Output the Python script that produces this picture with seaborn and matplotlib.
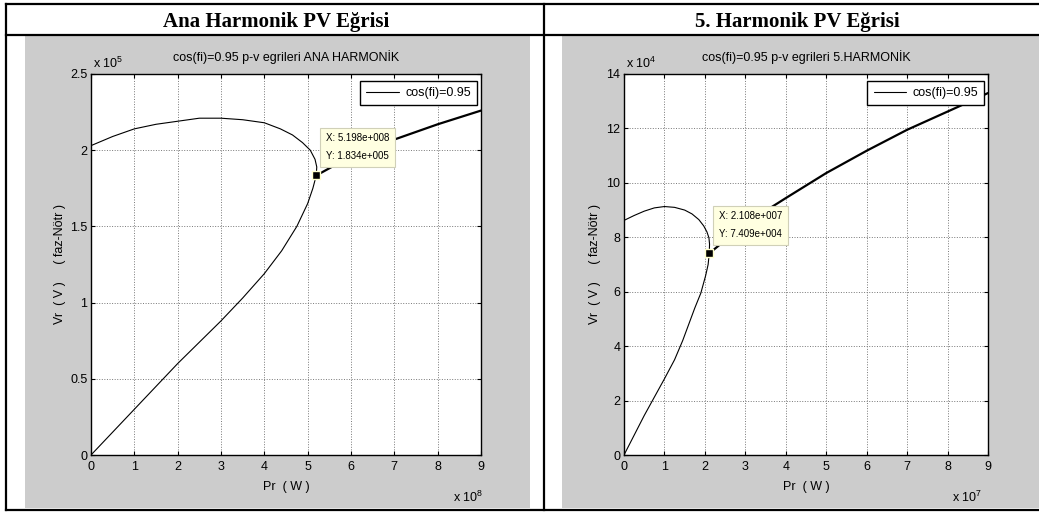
import numpy as np
import matplotlib
matplotlib.use("Agg")
import matplotlib.pyplot as plt
import seaborn as sns
from matplotlib.patches import Rectangle
from matplotlib.lines import Line2D
from matplotlib.ticker import FuncFormatter

# ---------------- data (display units) ----------------
headers = ["Ana Harmonik PV Eğrisi", "5. Harmonik PV Eğrisi"]
titles = ["cos(fi)=0.95 p-v egrileri ANA HARMONİK", "cos(fi)=0.95 p-v egrileri 5.HARMONİK"]
legend_label = "cos(fi)=0.95"

# Ana harmonik: Pr in 1e8 W, Vr in 1e5 V
pr_ana = [0, 0.5, 1.0, 1.5, 2.0, 2.5, 3.0, 3.5, 4.0, 4.4, 4.75, 5.0, 5.12, 5.198,
          5.21, 5.17, 5.06, 4.88, 4.65, 4.37, 4.0, 3.5, 3.0, 2.5, 2.0, 1.5, 1.0, 0.5, 0.0]
vr_ana = [0, 0.15, 0.30, 0.45, 0.60, 0.74, 0.88, 1.03, 1.19, 1.34, 1.50, 1.65, 1.75, 1.834,
          1.89, 1.94, 2.0, 2.05, 2.1, 2.14, 2.18, 2.20, 2.21, 2.21, 2.19, 2.17, 2.14, 2.09, 2.03]
ext_pr_ana = [5.198, 6.0, 7.0, 8.0, 9.0]
ext_vr_ana = [1.834, 1.96, 2.07, 2.17, 2.26]
tip_ana = (5.198, 1.834)

# 5. harmonik: Pr in 1e7 W, Vr in 1e4 V
pr_5 = [0, 0.5, 1.0, 1.25, 1.45, 1.6, 1.75, 1.9, 2.02, 2.08, 2.108,
        2.115, 2.1, 2.05, 1.97, 1.85, 1.68, 1.5, 1.25, 1.0, 0.75, 0.5, 0.25, 0.0]
vr_5 = [0, 1.45, 2.8, 3.5, 4.2, 4.8, 5.4, 5.95, 6.6, 7.0, 7.409,
        7.75, 7.98, 8.2, 8.42, 8.65, 8.86, 9.0, 9.1, 9.13, 9.08, 8.96, 8.8, 8.62]
ext_pr_5 = [2.108, 3.0, 4.0, 5.0, 6.0, 7.0, 8.27, 9.0]
ext_vr_5 = [7.409, 8.5, 9.44, 10.36, 11.18, 11.95, 12.8, 13.3]
tip_5 = (2.108, 7.409)

x_ticks = list(range(0, 10))
y_ticks_ana = [0, 0.5, 1, 1.5, 2, 2.5]
y_ticks_5 = [0, 2, 4, 6, 8, 10, 12, 14]
exps_ana = (8, 5)
exps_5 = (7, 4)

# ---------------- style ----------------
sns.set_style("ticks")
plt.rcParams["font.family"] = ["Liberation Sans", "DejaVu Sans"]
plt.rcParams["mathtext.default"] = "regular"
for k in ["text.color", "axes.labelcolor", "xtick.color", "ytick.color", "axes.edgecolor"]:
    plt.rcParams[k] = "black"

W, H = 1039, 514
fig = plt.figure(figsize=(W / 100, H / 100), dpi=100)


def fr(x0, y0, x1, y1):
    return [x0 / W, 1 - y1 / H, (x1 - x0) / W, (y1 - y0) / H]


# grey figure backgrounds
for (x0, y0, x1, y1) in [(25, 36, 530, 508), (562, 36, 1039, 508)]:
    fig.patches.append(Rectangle((x0 / W, 1 - y1 / H), (x1 - x0) / W, (y1 - y0) / H,
                                 transform=fig.transFigure, facecolor="#cccccc",
                                 edgecolor="none", zorder=-5))

# table borders
for (x0, y0, x1, y1) in [(6, 4, 1039, 4), (6, 35, 1039, 35), (6, 510, 1039, 510),
                         (6, 4, 6, 510), (544, 4, 544, 510)]:
    fig.add_artist(Line2D([x0 / W, x1 / W], [1 - y0 / H, 1 - y1 / H],
                          transform=fig.transFigure, color="black", lw=1.6,
                          solid_capstyle="projecting", zorder=-4))

for cx, txt in zip([276, 797], headers):
    fig.text(cx / W, 1 - 26.5 / H, txt, ha="center", va="baseline",
             family=["Liberation Serif", "DejaVu Serif"], weight="bold", size=15,
             color="black")


def matfmt(v, e):
    return f"{v:.3f}e+{e:03d}"


def draw(ax, pr, vr, epr, evr, tip, yticks, exps, title, xmult_x, tip_off):
    sns.lineplot(x=pr, y=vr, sort=False, estimator=None, color="black",
                 linewidth=0.8, ax=ax, label=legend_label)
    sns.lineplot(x=epr, y=evr, sort=False, estimator=None, color="black",
                 linewidth=1.6, ax=ax)
    sns.scatterplot(x=[tip[0]], y=[tip[1]], marker="s", s=40, color="black",
                    edgecolor="#ffffcc", linewidth=1.0, ax=ax, zorder=6)
    ax.set_xlim(0, 9)
    ax.set_ylim(yticks[0], yticks[-1])
    ax.set_xticks(x_ticks)
    ax.set_yticks(yticks)
    fmt = FuncFormatter(lambda v, p: f"{v:g}")
    ax.xaxis.set_major_formatter(fmt)
    ax.yaxis.set_major_formatter(fmt)
    ax.tick_params(direction="in", length=3, width=0.8, top=True, right=True,
                   labelsize=9, colors="black")
    ax.tick_params(axis="x", pad=4.5)
    ax.tick_params(axis="y", pad=2.5)
    ax.grid(True, ls=":", color="#777777", lw=0.7)
    for sp in ax.spines.values():
        sp.set_color("black")
        sp.set_linewidth(1.0)
    ax.set_facecolor("white")
    ax.text(0.5, 1.045, title, transform=ax.transAxes, ha="center", va="center",
            fontsize=9)
    ax.set_xlabel("Pr  ( W )", fontsize=9)
    ax.set_ylabel("Vr  ( V )     ( faz-Nötr )", fontsize=9)
    ax.xaxis.label.set_va("center")
    ax.yaxis.label.set_va("center")
    ax.xaxis.set_label_coords(0.5, -0.084)
    ax.yaxis.set_label_coords(-0.08, 0.5)
    ax.text(0.005, 1.016, f"x 10$^{{{exps[1]}}}$", transform=ax.transAxes,
            ha="left", va="baseline", fontsize=9)
    ax.text(xmult_x, -0.123, f"x 10$^{{{exps[0]}}}$", transform=ax.transAxes,
            ha="right", va="baseline", fontsize=9)
    leg = ax.legend(loc="upper right", bbox_to_anchor=(0.99, 0.982), borderaxespad=0,
                    frameon=True, fancybox=False, edgecolor="black", framealpha=1,
                    fontsize=9, handlelength=2.6, borderpad=0.5, handletextpad=0.5)
    leg.get_frame().set_linewidth(1.0)
    ax.annotate(f"X: {matfmt(tip[0], exps[0])}\nY: {matfmt(tip[1], exps[1])}",
                xy=tip, xytext=tip_off, textcoords="offset pixels",
                ha="left", va="bottom", fontsize=7, linespacing=2.0,
                bbox=dict(boxstyle="square,pad=0.6", fc="#ffffe1", ec="#d0d0b8", lw=0.8),
                zorder=7)


ax1 = fig.add_axes(fr(91, 74, 481, 455))
ax2 = fig.add_axes(fr(624, 74, 988, 455))
draw(ax1, pr_ana, vr_ana, ext_pr_ana, ext_vr_ana, tip_ana, y_ticks_ana, exps_ana,
     titles[0], 1.005, (10, 14))
draw(ax2, pr_5, vr_5, ext_pr_5, ext_vr_5, tip_5, y_ticks_5, exps_5,
     titles[1], 0.984, (10, 14))

fig.savefig("out.png", dpi=100)
